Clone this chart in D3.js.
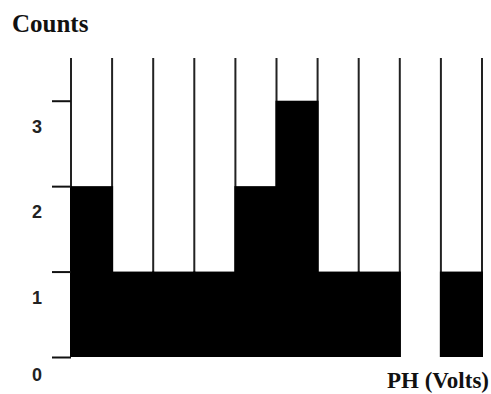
<!DOCTYPE html>
<html>
<head>
<meta charset="utf-8">
<script src="https://cdn.jsdelivr.net/npm/d3@7"></script>
<style>
  html, body { margin: 0; padding: 0; background: #fff; }
</style>
</head>
<body>
<div id="chart"></div>
<script>
// histogram data: 10 equal bins, counts per bin
const bins = [0, 1, 2, 3, 4, 5, 6, 7, 8, 9];
const counts = [2, 1, 1, 1, 2, 3, 1, 1, 0, 1];
const yTicks = [0, 1, 2, 3];
const yTitle = 'Counts';
const xTitle = 'PH (Volts)';

const width = 491;
const height = 394;

const svg = d3.select('#chart').append('svg')
  .attr('width', width)
  .attr('height', height);

const x = d3.scaleLinear().domain([0, bins.length]).range([71, 482]);
const y = d3.scaleLinear().domain([0, 3.5]).range([357, 58]);

// bin edges run the full height (drawn under the bars)
svg.append('g')
  .selectAll('line')
  .data(d3.range(bins.length + 1))
  .enter().append('line')
    .attr('x1', d => x(d))
    .attr('x2', d => x(d))
    .attr('y1', y(3.5))
    .attr('y2', y(0))
    .attr('stroke', '#222')
    .attr('stroke-width', 2);

// bars
svg.append('g')
  .selectAll('rect')
  .data(bins)
  .enter().append('rect')
    .attr('x', d => x(d) - 1)
    .attr('y', (d, i) => y(counts[i]))
    .attr('width', d => x(d + 1) - x(d) + 2)
    .attr('height', (d, i) => y(0) - y(counts[i]))
    .attr('fill', '#000');

// y axis ticks
const yAxis = d3.axisLeft(y).tickValues(yTicks).tickSize(19).tickFormat('');
const gy = svg.append('g')
  .attr('transform', `translate(${x(0)},0)`)
  .call(yAxis);
gy.select('.domain').remove();
gy.selectAll('.tick line').attr('stroke', '#111').attr('stroke-width', 2);

// labels sit below their ticks
svg.append('g')
  .selectAll('text')
  .data(yTicks)
  .enter().append('text')
    .attr('x', 37)
    .attr('y', d => Math.min(y(d) + 26, 375))
    .attr('text-anchor', 'middle')
    .attr('dominant-baseline', 'central')
    .style('font-family', '"Liberation Sans", Arial, sans-serif')
    .style('font-weight', 'bold')
    .style('font-size', '18px')
    .style('fill', '#222')
    .text(d => d);

svg.append('text')
  .attr('x', 12)
  .attr('y', 32)
  .style('font-family', '"Liberation Serif", "Times New Roman", serif')
  .style('font-weight', 'bold')
  .style('font-size', '25px')
  .style('fill', '#111')
  .text(yTitle);

svg.append('text')
  .attr('x', 489)
  .attr('y', 388)
  .attr('text-anchor', 'end')
  .style('font-family', '"Liberation Serif", "Times New Roman", serif')
  .style('font-weight', 'bold')
  .style('font-size', '23px')
  .style('fill', '#111')
  .text(xTitle);
</script>
</body>
</html>
